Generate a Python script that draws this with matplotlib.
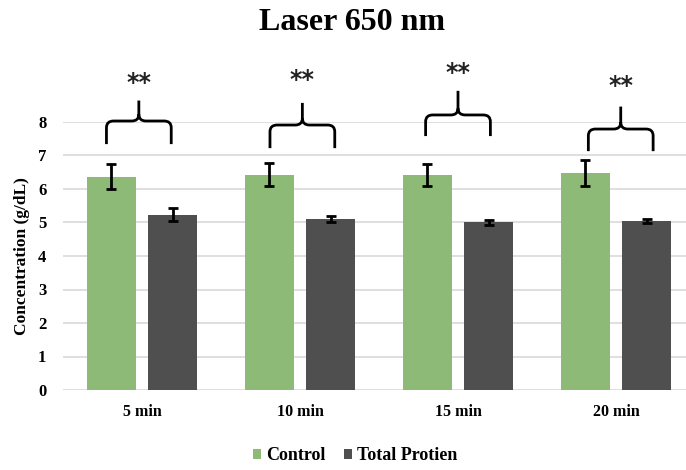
import matplotlib
matplotlib.use("Agg")
import matplotlib.pyplot as plt
import numpy as np
from matplotlib.path import Path
from matplotlib.patches import PathPatch, Patch

categories = ["5 min", "10 min", "15 min", "20 min"]
control = [6.37, 6.43, 6.42, 6.48]
control_err = [0.37, 0.35, 0.32, 0.38]
protein = [5.23, 5.10, 5.01, 5.05]
protein_err = [0.19, 0.08, 0.07, 0.06]
series_names = ["Control", "Total Protien"]
y_ticks = [0, 1, 2, 3, 4, 5, 6, 7, 8]

# significance braces: centre offset, bar level, leg bottom, peak, star height
brace_dx = [-0.02, 0.015, 0.0, 0.03]
brace_level = [8.03, 7.91, 8.21, 7.79]
brace_foot = [7.34, 7.22, 7.58, 7.13]
brace_peak = [8.64, 8.57, 8.93, 8.46]
star_y = [9.16, 9.25, 9.46, 9.06]
star_text = "**"

GREEN = "#8DBA77"
DARK = "#4F4F4F"
FONT = "Liberation Serif"

fig = plt.figure(figsize=(6.86, 4.70), dpi=100)
W, H = 686, 470
ax = fig.add_axes([63 / W, 1 - 390 / H, (686 - 63) / W, (390 - 122) / H])

x = np.arange(len(categories))
bw = 0.31
off = 0.196
ax.bar(x - off, control, bw, color=GREEN, zorder=2)
ax.bar(x + off, protein, bw, color=DARK, zorder=2)
ek = dict(fmt="none", ecolor="black", elinewidth=2.0, capsize=3.6, capthick=2.0, zorder=3)
ax.errorbar(x - off, control, yerr=control_err, **ek)
ax.errorbar(x + off, protein, yerr=protein_err, **ek)

ax.set_xlim(-0.5, (686 - 142) / 158)
ax.set_ylim(0, 8)
ax.set_yticks(y_ticks)
ax.yaxis.grid(True, color="#D9D9D9", linewidth=1.2, zorder=0)
ax.set_axisbelow(True)
for s in ax.spines.values():
    s.set_visible(False)
ax.tick_params(length=0)
ax.set_xticks(x)
ax.set_xticklabels(categories, fontfamily=FONT, fontweight="bold", fontsize=11.5)
for lab in ax.get_yticklabels():
    lab.set_fontfamily(FONT)
    lab.set_fontweight("bold")
    lab.set_fontsize(12)
ax.tick_params(axis="x", pad=10)
ax.tick_params(axis="y", pad=12)
ax.set_ylabel("Concentration (g/dL)", fontfamily=FONT, fontweight="bold", fontsize=12.5, labelpad=6)


def brace(ax, xc, half, yb, yh, yp):
    rx, ry = 0.045, 0.2
    x0, x1 = xc - half, xc + half
    verts = [
        (x0, yb), (x0, yh - ry), (x0, yh), (x0 + rx, yh),
        (xc - rx, yh), (xc, yh), (xc, yh + ry), (xc, yp),
        (xc, yh + ry), (xc, yh), (xc + rx, yh),
        (x1 - rx, yh), (x1, yh), (x1, yh - ry), (x1, yb),
    ]
    codes = [
        Path.MOVETO, Path.LINETO, Path.CURVE3, Path.CURVE3,
        Path.LINETO, Path.CURVE3, Path.CURVE3, Path.LINETO,
        Path.MOVETO, Path.CURVE3, Path.CURVE3,
        Path.LINETO, Path.CURVE3, Path.CURVE3, Path.LINETO,
    ]
    ax.add_patch(PathPatch(Path(verts, codes), fill=False, lw=2.0,
                           edgecolor="black", clip_on=False, zorder=4,
                           capstyle="butt", joinstyle="round"))


for i in range(len(categories)):
    xc = x[i] + brace_dx[i]
    brace(ax, xc, 0.205, brace_foot[i], brace_level[i], brace_peak[i])
    ax.text(xc, star_y[i], star_text, ha="center", va="center",
            fontsize=17, fontfamily="DejaVu Sans", fontweight="bold",
            color="#222222", clip_on=False)

fig.text(352 / W, 1 - 22 / H, "Laser 650 nm", ha="center", va="center",
         fontfamily=FONT, fontweight="bold", fontsize=23)

handles = [Patch(facecolor=GREEN), Patch(facecolor=DARK)]
fig.legend(handles, series_names, loc="center", bbox_to_anchor=(355 / W, 1 - 456 / H),
           ncol=2, frameon=False, handlelength=0.45, handleheight=0.45,
           handletextpad=0.3, columnspacing=1.0,
           prop=dict(family=FONT, weight="bold", size=13))

fig.savefig("out.png", dpi=100)
